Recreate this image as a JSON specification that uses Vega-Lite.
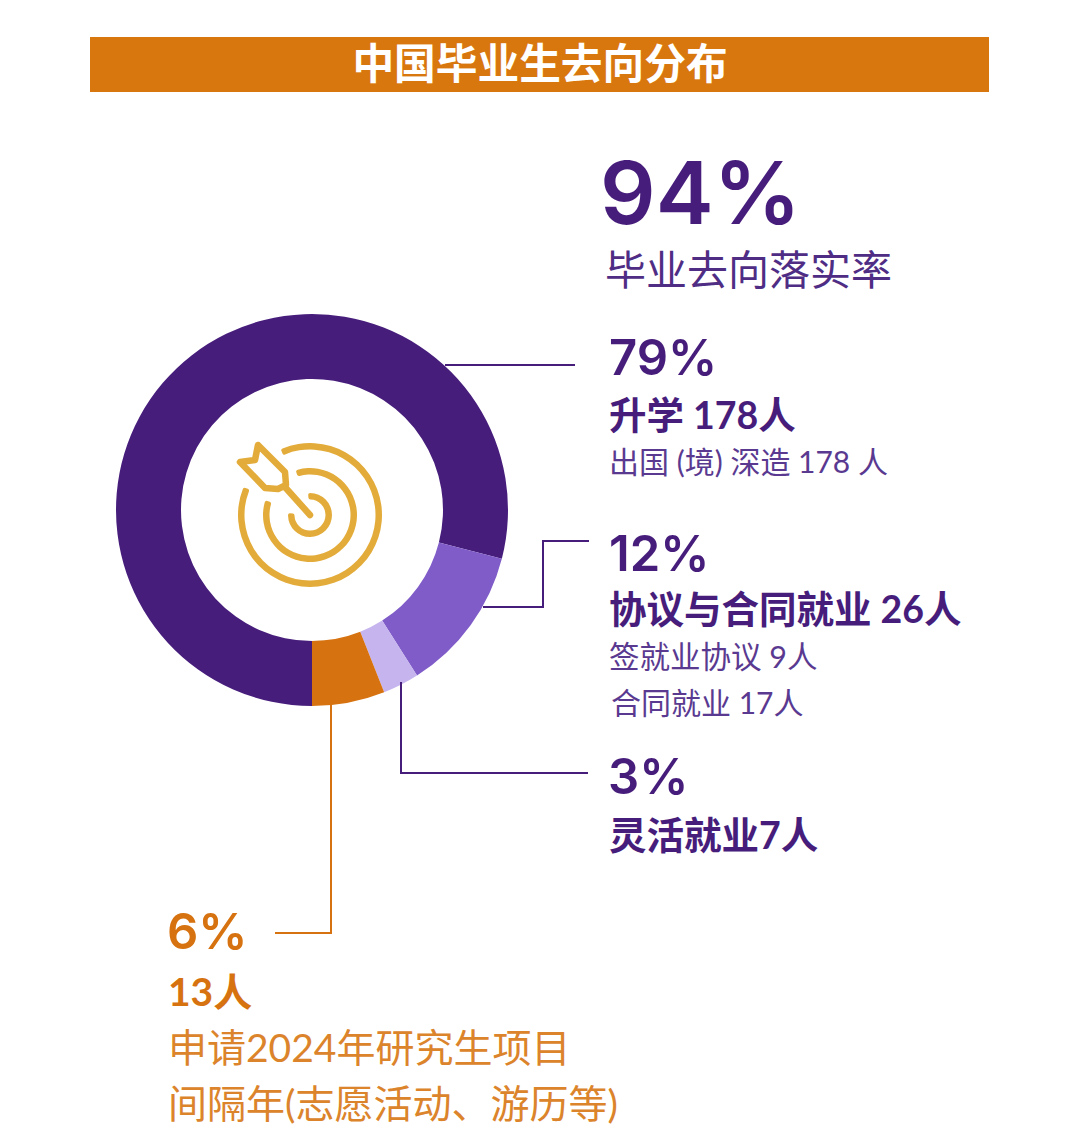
{"$schema":"https://vega.github.io/schema/vega-lite/v6.json","width":1080,"height":1140,"padding":0,"autosize":{"type":"fit","contains":"padding"},"background":"white","view":{"stroke":null},"config":{"text":{"font":"Lato, 'Noto Sans CJK SC'","align":"left","baseline":"alphabetic"}},"layer":[
{"data":{"values":[{"t":"banner"}]},"mark":{"type":"rect","x":90,"x2":989,"y":37,"y2":92,"fill":"#D9770F"},"encoding":{}},
{"data":{"values":[{"t":"中国毕业生去向分布"}]},"mark":{"type":"text","x":540,"y":79,"align":"center","fontSize":41.7,"fontWeight":700,"fill":"white"},"encoding":{"text":{"field":"t"}}},
{"data":{"values":[{"group":"升学","share":79,"people":178,"rank":1},{"group":"协议与合同就业","share":12,"people":26,"rank":2},{"group":"灵活就业","share":3,"people":7,"rank":3},{"group":"间隔年","share":6,"people":13,"rank":4}]},"mark":{"type":"arc","x":312,"y":510,"outerRadius":196,"innerRadius":131},"encoding":{"theta":{"field":"share","type":"quantitative","stack":true,"scale":{"domain":[0,100],"range":[3.14159,9.42478]}},"order":{"field":"rank"},"color":{"field":"group","type":"nominal","legend":null,"scale":{"domain":["升学","协议与合同就业","灵活就业","间隔年"],"range":["#471D7C","#7F5CC8","#C6B4EE","#D6720F"]}}}},
{"data":{"values":[{"t":"ring"}]},"mark":{"type":"arc","x":310,"y":515,"theta":-0.42,"theta2":5.11,"innerRadius":65.5,"outerRadius":72,"cornerRadius":2,"fill":"#E3AC3A"},"encoding":{}},
{"data":{"values":[{"t":"ring"}]},"mark":{"type":"arc","x":310,"y":515,"theta":-0.31,"theta2":5.03,"innerRadius":40.5,"outerRadius":47,"cornerRadius":2,"fill":"#E3AC3A"},"encoding":{}},
{"data":{"values":[{"t":"ring"}]},"mark":{"type":"arc","x":310,"y":515,"theta":-0.09,"theta2":4.8,"innerRadius":15.5,"outerRadius":22,"cornerRadius":2,"fill":"#E3AC3A"},"encoding":{}},
{"data":{"values":[{"t":"arrow"}]},"mark":{"type":"point","x":310,"y":515,"size":4,"filled":false,"opacity":1,"stroke":"#E3AC3A","strokeWidth":6.5,"strokeJoin":"round","strokeCap":"round","shape":"M-70,-53L-55,-55L-52,-70L-25,-43L-24,-30L-32,-26L-45,-27ZM-26,-29L0,0"},"encoding":{}},
{"data":{"values":[{"t":"升学"}]},"mark":{"type":"point","x":0,"y":0,"size":4,"filled":false,"opacity":1,"stroke":"#471D7C","strokeWidth":2,"shape":"M445,365L575,365"},"encoding":{}},
{"data":{"values":[{"t":"协议与合同就业"}]},"mark":{"type":"point","x":0,"y":0,"size":4,"filled":false,"opacity":1,"stroke":"#471D7C","strokeWidth":2,"shape":"M483,607L543,607L543,541L589,541"},"encoding":{}},
{"data":{"values":[{"t":"灵活就业"}]},"mark":{"type":"point","x":0,"y":0,"size":4,"filled":false,"opacity":1,"stroke":"#471D7C","strokeWidth":2,"shape":"M401,682L401,773L588,773"},"encoding":{}},
{"data":{"values":[{"t":"间隔年"}]},"mark":{"type":"point","x":0,"y":0,"size":4,"filled":false,"opacity":1,"stroke":"#D6720F","strokeWidth":2,"shape":"M331,703L331,933L275,933"},"encoding":{}},
{"data":{"values":[{"t":"94%"}]},"mark":{"type":"text","x":600,"y":224,"font":"Inter","fontSize":87,"fontWeight":600,"fill":"#471D7C"},"encoding":{"text":{"field":"t"}}},
{"data":{"values":[{"t":"毕业去向落实率"}]},"mark":{"type":"text","x":605,"y":285,"fontSize":41,"fill":"#4F2D85"},"encoding":{"text":{"field":"t"}}},
{"data":{"values":[{"t":"79%"}]},"mark":{"type":"text","x":609,"y":375,"font":"Inter","fontSize":49,"fontWeight":600,"fill":"#471D7C"},"encoding":{"text":{"field":"t"}}},
{"data":{"values":[{"t":"升学 178人"}]},"mark":{"type":"text","x":609,"y":429,"fontSize":37.5,"fontWeight":700,"fill":"#471D7C"},"encoding":{"text":{"field":"t"}}},
{"data":{"values":[{"t":"出国 (境) 深造 178 人"}]},"mark":{"type":"text","x":609,"y":473,"fontSize":30,"fill":"#5A3A90"},"encoding":{"text":{"field":"t"}}},
{"data":{"values":[{"t":"12%"}]},"mark":{"type":"text","x":609,"y":571,"font":"Inter","fontSize":49,"fontWeight":600,"fill":"#471D7C"},"encoding":{"text":{"field":"t"}}},
{"data":{"values":[{"t":"协议与合同就业 26人"}]},"mark":{"type":"text","x":609,"y":623,"fontSize":37.5,"fontWeight":700,"fill":"#471D7C"},"encoding":{"text":{"field":"t"}}},
{"data":{"values":[{"t":"签就业协议 9人"}]},"mark":{"type":"text","x":609,"y":668,"fontSize":30.5,"fill":"#5A3A90"},"encoding":{"text":{"field":"t"}}},
{"data":{"values":[{"t":"合同就业 17人"}]},"mark":{"type":"text","x":611,"y":714,"fontSize":30,"fill":"#5A3A90"},"encoding":{"text":{"field":"t"}}},
{"data":{"values":[{"t":"3%"}]},"mark":{"type":"text","x":608,"y":794,"font":"Inter","fontSize":49,"fontWeight":600,"fill":"#471D7C"},"encoding":{"text":{"field":"t"}}},
{"data":{"values":[{"t":"灵活就业7人"}]},"mark":{"type":"text","x":609,"y":849,"fontSize":37.5,"fontWeight":700,"fill":"#471D7C"},"encoding":{"text":{"field":"t"}}},
{"data":{"values":[{"t":"6%"}]},"mark":{"type":"text","x":167,"y":949,"font":"Inter","fontSize":49,"fontWeight":600,"fill":"#D6720F"},"encoding":{"text":{"field":"t"}}},
{"data":{"values":[{"t":"13人"}]},"mark":{"type":"text","x":168,"y":1006,"fontSize":39,"fontWeight":700,"fill":"#D6720F"},"encoding":{"text":{"field":"t"}}},
{"data":{"values":[{"t":"申请2024年研究生项目"}]},"mark":{"type":"text","x":168,"y":1062,"fontSize":39,"fill":"#DB842B"},"encoding":{"text":{"field":"t"}}},
{"data":{"values":[{"t":"间隔年(志愿活动、游历等)"}]},"mark":{"type":"text","x":168,"y":1118,"fontSize":39,"fill":"#DB842B"},"encoding":{"text":{"field":"t"}}}
]}
